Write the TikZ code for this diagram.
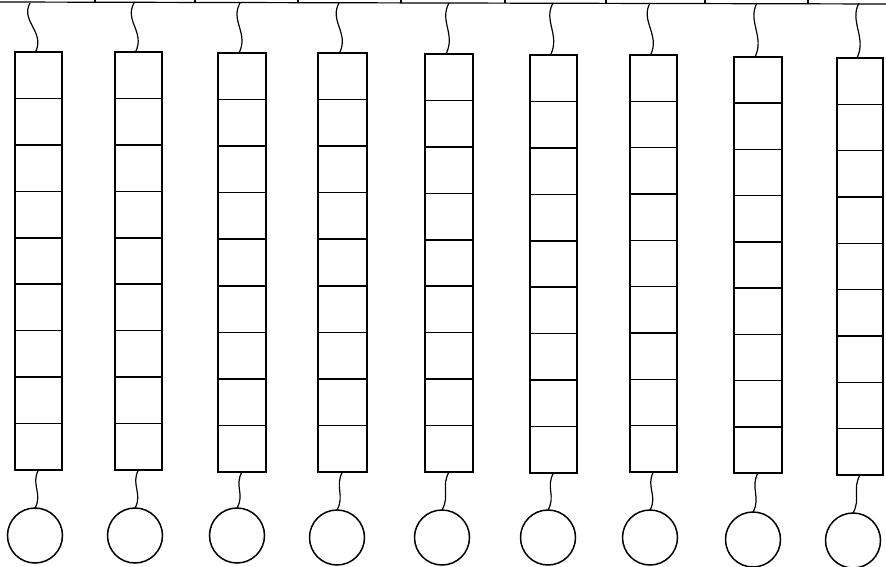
\documentclass[tikz,border=0pt]{standalone}
\usetikzlibrary{positioning}
\tikzset{
  stack/.style={draw,line width=1.6pt,inner sep=0pt,outer sep=0pt},
  bulb/.style={draw,circle,line width=1.5pt,minimum size=55pt,inner sep=0pt,outer sep=0pt},
  wire/.style={line width=1.2pt},
}

\begin{document}
\begin{tikzpicture}[x=1pt,y=-1pt]
    \useasboundingbox (0,0) rectangle (886,567);
    % bus along the top
    \draw[wire] (0,2) -- (886,4);
    \foreach \t in {95,195,298,401,505,606,705,808}
      \draw[wire] (\t,0) -- (\t,3);
    % one column of nine cells per line, with its lamp below
    \foreach \l/\r/\tp/\bt/\wx/\cx/\ct [count=\i] in
      {15/62/52/470/30/35/508, 115/162/52/470/134/135/508,
       218/266/53/472/240/237/508, 318/367/53/472/339/337/510,
       425/473/54/472/449/442/510, 530/577/55/473/553/548/510,
       630/677/55/472/650/650/510, 734/782/57/473/757/753/512,
       837/883/58/475/859/853/513}{
      \pgfmathsetmacro{\h}{(\bt-\tp)/9}
      \node[stack,minimum width=\r-\l,minimum height=\bt-\tp]
        (col\i) at ({(\l+\r)/2},{(\tp+\bt)/2}) {};
      \foreach \j in {1,...,8}
        \draw[line width=1.6pt] (\l,\tp+\j*\h) -- (\r,\tp+\j*\h);
      \coordinate (bus\i) at (\wx,3);
      \node[bulb] (lamp\i) at (\cx,\ct+27.5) {};
      \draw[wire] (bus\i) .. controls +(-10,18) and +(10,-20) .. ([xshift=-3pt]col\i.north);
      \draw[wire] (col\i.south) .. controls +(-8,14) and +(8,-14) .. (lamp\i.north);
    }
  \end{tikzpicture}
\end{document}
